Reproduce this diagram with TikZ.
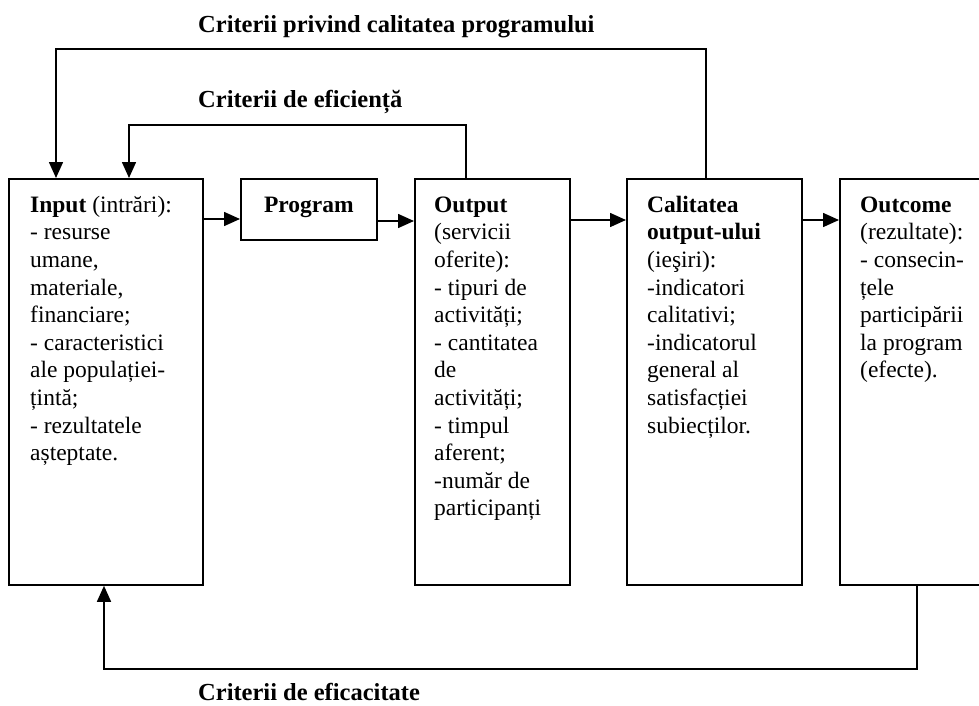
\documentclass[tikz,border=0pt]{standalone}
\usepackage{fontspec}
\setmainfont{Liberation Serif}
\usetikzlibrary{arrows.meta}
\begin{document}
\begin{tikzpicture}[x=1pt,y=-1pt,
  box/.style={draw, line width=1.8pt, inner sep=0pt, anchor=north west},
  txt/.style={anchor=north west, inner sep=0pt, align=left, font=\fontsize{23.5}{27.6}\selectfont},
  lbl/.style={anchor=base west, inner sep=0pt, font=\fontsize{24.5}{28}\selectfont\bfseries},
  arr/.style={line width=1.6pt, -{Triangle[length=16pt,width=14pt]}}]
\fill[white] (0,0) rectangle (979,706);
\useasboundingbox (0,0) rectangle (979,706);
\begin{scope}
\clip (0,0) rectangle (979,706);
% boxes
\node[box, minimum width=194pt, minimum height=406pt] (in) at (8,178) {};
\node[box, minimum width=136pt, minimum height=61pt] (prog) at (240,178) {};
\node[box, minimum width=155pt, minimum height=406pt] (out) at (414,178) {};
\node[box, minimum width=175pt, minimum height=406pt] (cal) at (626,178) {};
\node[box, minimum width=160pt, minimum height=406pt] (oc) at (839,178) {};
% texts
\node[txt] (tin) at (30,192.7) {\strut\textbf{Input} (intrări):\\- resurse\\umane,\\materiale,\\financiare;\\- caracteristici\\ale populației-\\țintă;\\- rezultatele\\așteptate.};
\node[anchor=base, inner sep=0pt, font=\fontsize{23.5}{27.6}\selectfont\bfseries] (tprog) at ([yshift=-34pt]prog.north) {Program};
\node[txt] (tout) at (434,192.7) {\strut\textbf{Output}\\(servicii\\oferite):\\- tipuri de\\activități;\\- cantitatea\\de\\activități;\\- timpul\\aferent;\\-număr de\\participanți};
\node[txt] (tcal) at (647,192.7) {\strut\textbf{Calitatea}\\\textbf{output-ului}\\(ieşiri):\\-indicatori\\calitativi;\\-indicatorul\\general al\\satisfacției\\subiecților.};
\node[txt] (toc) at (860,192.7) {\strut\textbf{Outcome}\\(rezultate):\\- consecin-\\țele\\participării\\la program\\(efecte).};
% forward arrows
\draw[arr] ([yshift=-41pt]in.north east) -- ([yshift=-41pt]prog.north west);
\draw[arr] ([yshift=-43pt]prog.north east) -- ([yshift=-43pt]out.north west);
\draw[arr] ([yshift=-42pt]out.north east) -- ([yshift=-42pt]cal.north west);
\draw[arr] ([yshift=-42pt]cal.north east) -- ([yshift=-42pt]oc.north west);
% feedback loops
\draw[arr] ([xshift=80pt]cal.north west) -- ++(0,-129) -| ([xshift=48pt]in.north west);
\draw[arr] ([xshift=52pt]out.north west) -- ++(0,-53) -| ([xshift=121pt]in.north west);
\draw[arr] ([xshift=78pt]oc.south west) -- ++(0,83) -| ([xshift=96pt]in.south west);
% labels
\node[lbl] (l1) at (198,33) {Criterii privind calitatea programului};
\node[lbl] (l2) at (198,107) {Criterii de eficiență};
\node[lbl] (l3) at (198,700) {Criterii de eficacitate};
\end{scope}
\end{tikzpicture}
\end{document}
